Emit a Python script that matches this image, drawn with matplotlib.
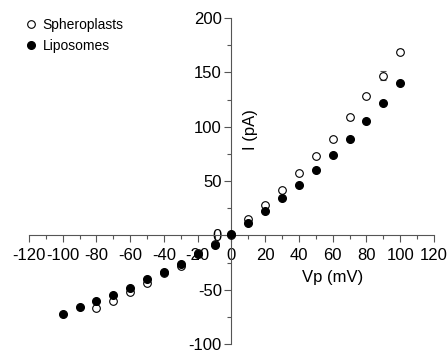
import numpy as np
import matplotlib
matplotlib.use("Agg")
import matplotlib.pyplot as plt
from matplotlib.ticker import MultipleLocator
from matplotlib.lines import Line2D

plt.rcParams['font.family'] = ['Liberation Sans', 'DejaVu Sans']
plt.rcParams['axes.unicode_minus'] = False

# voltage steps (mV)
vp_lipo = [-100, -90, -80, -70, -60, -50, -40, -30, -20, -10, 0, 10, 20, 30, 40, 50, 60, 70, 80, 90, 100]
i_lipo = [-72.4, -65.7, -60.4, -55, -48.5, -40, -33.8, -26.4, -17.2, -8.6, 1, 11, 22.4, 34, 46, 60, 74, 89, 105, 122, 140]

vp_sphero = [-80, -70, -60, -50, -40, -30, -20, -10, 0, 10, 20, 30, 40, 50, 60, 70, 80, 90, 100]
i_sphero = [-67, -60, -52, -44, -34.5, -28, -16, -8, 0, 15, 27.6, 41.7, 57.6, 73, 89, 108.5, 128, 147, 169]
err_sphero = [0, 0, 0, 0, 0, 0, 0, 0, 0, 0, 0, 0, 0, 0, 0, 2, 1.5, 4, 2.5]

fig = plt.figure(figsize=(4.48, 3.52), dpi=100)
ax = fig.add_axes([0.0647, 0.0227, 0.904, 0.926])

ax.errorbar(vp_sphero, i_sphero, yerr=err_sphero, fmt='o', ms=5.5, mfc='white', mec='black',
            mew=0.8, ecolor='#555555', elinewidth=0.8, capsize=2.5, capthick=0.8, zorder=3)
ax.plot(vp_lipo, i_lipo, 'o', ms=5.5, color='black', zorder=4)

ax.set_xlim(-120, 120)
ax.set_ylim(-100, 200)

for s in ['top', 'right']:
    ax.spines[s].set_visible(False)
for s in ['left', 'bottom']:
    ax.spines[s].set_position(('data', 0))
    ax.spines[s].set_color('#555555')
    ax.spines[s].set_linewidth(0.8)

ax.xaxis.set_major_locator(MultipleLocator(20))
ax.xaxis.set_minor_locator(MultipleLocator(10))
ax.yaxis.set_major_locator(MultipleLocator(50))
ax.yaxis.set_minor_locator(MultipleLocator(25))
ax.tick_params(which='both', direction='out', color='#555555', width=0.8, labelsize=12)
ax.tick_params(which='major', length=5)
ax.tick_params(which='minor', length=3)
ax.tick_params(axis='x', pad=4)
ax.tick_params(axis='y', pad=2)

ax.text(60, -39, 'Vp (mV)', ha='center', va='center', fontsize=12)
ax.text(11, 97, 'I (pA)', ha='center', va='center', rotation=90, fontsize=12)

handles = [Line2D([], [], ls='none', marker='o', ms=5.5, mfc='white', mec='black', mew=0.8),
           Line2D([], [], ls='none', marker='o', ms=5.5, color='black')]
ax.legend(handles, ['Spheroplasts', 'Liposomes'], loc='upper left', bbox_to_anchor=(-0.035, 1.03),
          frameon=False, fontsize=10, handletextpad=0.3, handlelength=1.0,
          borderaxespad=0.3, labelspacing=0.5)

fig.savefig('out.png', dpi=100)
